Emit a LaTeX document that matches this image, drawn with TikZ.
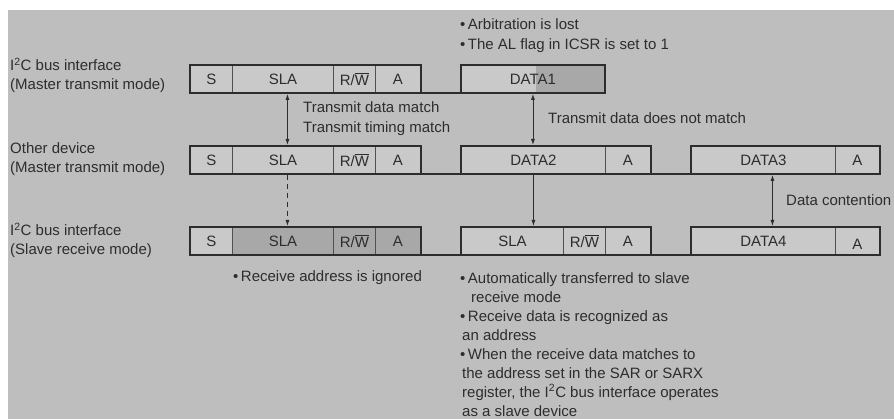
\documentclass[tikz,border=0pt]{standalone}
\usepackage{fontspec}
\setmainfont{Liberation Sans}
\usetikzlibrary{arrows.meta}

\definecolor{panel}{RGB}{190,190,190}
\definecolor{cellfill}{RGB}{201,201,201}
\definecolor{cellshade}{RGB}{168,168,168}
\definecolor{ink}{RGB}{45,45,45}
\definecolor{divider}{RGB}{80,80,80}

\newcommand{\rw}{R/$\overline{\hbox{W}}$}
\newcommand{\iic}{I\textsuperscript{2}C}

\begin{document}
\begin{tikzpicture}[x=1pt,y=-1pt,
  txt/.style={font=\fontsize{15}{19}\selectfont, text=ink, inner sep=0pt},
  cell/.style={txt, draw=divider, line width=0.9pt, fill=cellfill,
               minimum height=27pt, anchor=north west},
  shaded/.style={fill=cellshade},
  frame/.style={draw=ink, line width=2pt},
  link/.style={draw=ink, line width=0.9pt, shorten <=1pt, shorten >=1pt},
  tip/.style={-{Latex[length=6pt,width=4pt]}},
  tips/.style={{Latex[length=6pt,width=4pt]}-{Latex[length=6pt,width=4pt]}},
  note/.style={txt, anchor=north west, align=left},
]
\useasboundingbox (0,0) rectangle (894,419);
\fill[white] (0,0) rectangle (894,419);
\fill[panel] (8,10) rectangle (894,419);

% ---- row 1: I2C bus interface, master transmit
\node[cell, minimum width=42pt]  (s1)   at (190,65) {S};
\node[cell, minimum width=101pt] (sla1) at (232,65) {SLA};
\node[cell, minimum width=42pt]  (rw1)  at (333,65) {\rw};
\node[cell, minimum width=45pt]  (a1)   at (375,65) {A};
\node[cell, minimum width=143pt,
  path picture={\fill[cellshade] ([xshift=75pt]path picture bounding box.north west)
                 rectangle (path picture bounding box.south east);}] (d1) at (461,65) {DATA1};
\draw[frame] (s1.north west) rectangle (a1.south east);
\draw[frame] (d1.north west) rectangle (d1.south east);
\draw[frame] (a1.south east) -- (d1.south west);

% ---- row 2: other device, master transmit
\node[cell, minimum width=42pt]  (s2)   at (190,146) {S};
\node[cell, minimum width=101pt] (sla2) at (232,146) {SLA};
\node[cell, minimum width=42pt]  (rw2)  at (333,146) {\rw};
\node[cell, minimum width=45pt]  (a2)   at (375,146) {A};
\node[cell, minimum width=144pt] (d2)   at (461,146) {DATA2};
\node[cell, minimum width=45pt]  (a2b)  at (605,146) {A};
\node[cell, minimum width=144pt] (d3)   at (691,146) {DATA3};
\node[cell, minimum width=44pt]  (a2c)  at (835,146) {A};
\draw[frame] (s2.north west) rectangle (a2.south east);
\draw[frame] (d2.north west) rectangle (a2b.south east);
\draw[frame] (d3.north west) rectangle (a2c.south east);
\draw[frame] (a2.south east) -- (d2.south west);
\draw[frame] (a2b.south east) -- (d3.south west);

% ---- row 3: I2C bus interface, slave receive
\node[cell, minimum width=42pt]          (s3)   at (190,227) {S};
\node[cell, shaded, minimum width=101pt] (sla3) at (232,227) {SLA};
\node[cell, shaded, minimum width=42pt]  (rw3)  at (333,227) {\rw};
\node[cell, shaded, minimum width=45pt]  (a3)   at (375,227) {A};
\node[cell, minimum width=102pt] (sla3b) at (461,227) {SLA};
\node[cell, minimum width=42pt]  (rw3b)  at (563,227) {\rw};
\node[cell, minimum width=45pt]  (a3b)   at (605,227) {A};
\node[cell, minimum width=144pt] (d4)    at (691,227) {DATA4};
\node[cell, minimum width=44pt, text height=18pt, text depth=0pt] (a3c) at (835,227) {A};
\draw[frame] (s3.north west) rectangle (a3.south east);
\draw[frame] (sla3b.north west) rectangle (a3b.south east);
\draw[frame] (d4.north west) rectangle (a3c.south east);
\draw[frame] (a3.south east) -- (sla3b.south west);
\draw[frame] (a3b.south east) -- (d4.south west);

% ---- connectors
\draw[link, tips] ([xshift=4.5pt]sla1.south) -- ([xshift=4.5pt]sla2.north);
\draw[link, tips] (d1.south) -- (d1.south |- d2.north);
\draw[link, tip, dash pattern=on 5pt off 4pt] ([xshift=4.5pt]sla2.south) -- ([xshift=4.5pt]sla3.north);
\draw[link, tip] (d2.south) -- (d2.south |- sla3b.north);
\draw[link, tips] ([xshift=9pt]d3.south) -- ([xshift=9pt]d4.north);

% ---- row labels
\node[note, font=\fontsize{15}{18.5}\selectfont] (lab1) at (10,58) {\iic{} bus interface\\(Master transmit mode)};
\node[note, font=\fontsize{15}{19}\selectfont] (lab2) at (10,142) {Other device\\(Master transmit mode)};
\node[note, font=\fontsize{15}{18.5}\selectfont] (lab3) at (10,223) {\iic{} bus interface\\(Slave receive mode)};

% ---- annotations
\node[note, font=\fontsize{15}{20}\selectfont] (lost) at (460,18)
  {\textbullet\,Arbitration is lost\\\textbullet\,The AL flag in ICSR is set to 1};
\node[note, font=\fontsize{15}{20}\selectfont] (match) at (303,101.5)
  {Transmit data match\\Transmit timing match};
\node[txt, anchor=west] (nomatch) at (548,118) {Transmit data does not match};
\node[txt, anchor=west] (contend) at (786,200) {Data contention};
\node[txt, anchor=west] (ignored) at (233,278) {\textbullet\,Receive address is ignored};
\node[note] (slave) at (460,272)
  {\textbullet\,Automatically transferred to slave\\
   \hspace*{11pt}receive mode\\
   \textbullet\,Receive data is recognized as\\
   \hspace*{2pt}an address\\
   \textbullet\,When the receive data matches to\\
   \hspace*{2pt}the address set in the SAR or SARX\\
   \hspace*{2pt}register, the \iic{} bus interface operates\\
   \hspace*{2pt}as a slave device};
\end{tikzpicture}
\end{document}
